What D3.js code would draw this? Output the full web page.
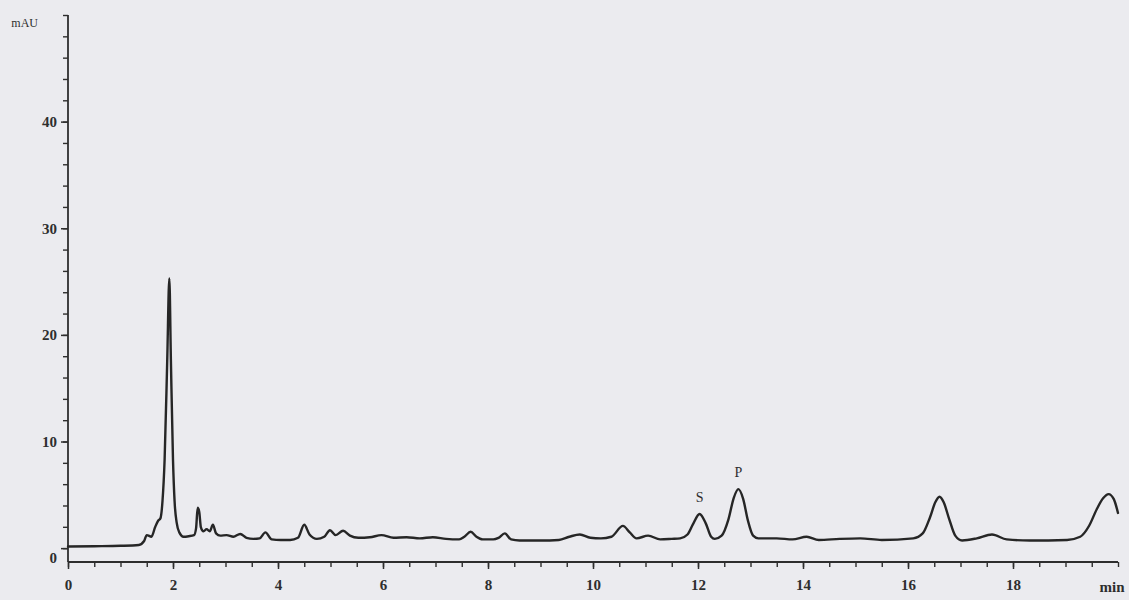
<!DOCTYPE html>
<html>
<head>
<meta charset="utf-8">
<script src="https://cdn.jsdelivr.net/npm/d3@7"></script>
<style>
  html, body { margin: 0; padding: 0; background: #ebebef; }
  svg { display: block; }
  text { font-family: "Liberation Serif", "DejaVu Serif", serif; fill: #2e2e2e; }
</style>
</head>
<body>
<svg id="chart" width="1129" height="600"></svg>
<script>
// retention time (min)
const times = [0, 0.5, 1.0, 1.35, 1.45, 1.5, 1.59, 1.66, 1.72, 1.76, 1.80, 1.84, 1.89, 1.93, 1.96, 2.0, 2.03, 2.07, 2.12, 2.2,
  2.3, 2.4, 2.44, 2.47, 2.50, 2.53, 2.58, 2.64, 2.7, 2.76, 2.82, 2.9, 3.02, 3.15, 3.28, 3.4, 3.53, 3.65, 3.76, 3.88,
  4.05, 4.23, 4.38, 4.5, 4.6, 4.74, 4.88, 4.99, 5.1, 5.24, 5.37, 5.53, 5.75, 5.97, 6.2, 6.45, 6.7, 6.95, 7.2, 7.45,
  7.55, 7.67, 7.78, 7.9, 8.1, 8.2, 8.32, 8.44, 8.6, 9.0, 9.35, 9.55, 9.75, 9.95, 10.15, 10.35, 10.57, 10.7, 10.83, 11.05,
  11.28, 11.5, 11.66, 11.8, 11.9, 12.03, 12.15, 12.25, 12.32, 12.45, 12.58, 12.68, 12.77, 12.86, 12.95, 13.05, 13.15, 13.5, 13.8, 14.07,
  14.3, 14.7, 15.09, 15.5, 16.1, 16.28, 16.42, 16.52, 16.6, 16.68, 16.78, 16.9, 17.03, 17.31, 17.6, 17.88, 18.32, 19.03, 19.28, 19.45,
  19.6, 19.72, 19.82, 19.92, 20];
// absorbance (mAU)
const absorbance = [0.15, 0.18, 0.22, 0.3, 0.67, 1.22, 1.07, 1.98, 2.59, 2.79, 4.42, 8.27, 17.6, 25.3, 17.6, 8.27, 4.42, 2.39, 1.48, 1.07,
  1.12, 1.22, 1.88, 3.8, 3.4, 1.98, 1.58, 1.78, 1.58, 2.19, 1.38, 1.17, 1.22, 1.07, 1.33, 0.97, 0.87, 0.92, 1.48, 0.82,
  0.77, 0.77, 0.97, 2.19, 1.28, 0.87, 1.07, 1.68, 1.22, 1.63, 1.17, 0.97, 1.02, 1.22, 0.97, 1.02, 0.92, 1.02, 0.87, 0.82,
  1.07, 1.53, 1.07, 0.82, 0.82, 0.97, 1.38, 0.82, 0.72, 0.72, 0.77, 1.07, 1.28, 0.97, 0.92, 1.07, 2.09, 1.48, 0.92, 1.17,
  0.82, 0.87, 0.92, 1.28, 2.2, 3.2, 2.3, 1.07, 0.87, 1.17, 2.7, 4.7, 5.53, 4.62, 2.6, 1.17, 0.92, 0.92, 0.82, 1.07,
  0.77, 0.87, 0.92, 0.77, 0.92, 1.38, 2.9, 4.3, 4.82, 4.3, 2.8, 1.17, 0.72, 0.92, 1.28, 0.82, 0.72, 0.77, 1.07, 2.1,
  3.7, 4.7, 5.07, 4.6, 3.3];
// annotated peaks
const peakNames = ["S", "P"];
const peakTimes = [12.03, 12.77];
const peakHeights = [3.2, 5.53];
// axis ticks
const xMajorTicks = [0, 2, 4, 6, 8, 10, 12, 14, 16, 18];
const yMajorTicks = [0, 10, 20, 30, 40];
const yUnit = "mAU";
const xUnit = "min";

const svg = d3.select("#chart");
const ink = "#2e2e2e";

svg.append("rect").attr("width", 1129).attr("height", 600).attr("fill", "#ebebef");

const x = d3.scaleLinear().domain([0, 20]).range([68, 1118]);
const y = d3.scaleLinear().domain([-1.3, 50]).range([562, 15]);

// y axis
const yAxisMinor = d3.axisLeft(y).tickValues(d3.range(0, 51, 2)).tickSize(5).tickFormat("");
const gyMinor = svg.append("g").attr("transform", `translate(${x(0)},0)`).call(yAxisMinor);
gyMinor.select(".domain").remove();
gyMinor.selectAll("line").attr("stroke", ink).attr("stroke-width", 1.4);

const gy = svg.append("g").attr("transform", `translate(${x(0)},0)`)
  .call(d3.axisLeft(y).tickValues(yMajorTicks).tickSize(7).tickPadding(4).tickFormat(d3.format("d")));
gy.select(".domain").remove();
gy.selectAll("line").attr("stroke", ink).attr("stroke-width", 1.5);
gy.selectAll("text").attr("font-size", 15).attr("font-weight", "bold")
  .attr("font-family", "'Liberation Serif', serif").attr("fill", ink)
  .attr("dy", d => d === 0 ? "0.95em" : "0.32em");

svg.append("line").attr("x1", x(0)).attr("x2", x(0)).attr("y1", y(50)).attr("y2", y(-1.3))
  .attr("stroke", ink).attr("stroke-width", 1.8);

svg.append("text").attr("x", 38).attr("y", y(50) + 12).attr("text-anchor", "end")
  .attr("font-size", 12).attr("fill", ink).text(yUnit);

// x axis
const gxMinor = svg.append("g").attr("transform", `translate(0,${y(-1.3)})`)
  .call(d3.axisBottom(x).tickValues(d3.range(0, 20.01, 0.5)).tickSize(5).tickFormat(""));
gxMinor.select(".domain").remove();
gxMinor.selectAll("line").attr("stroke", ink).attr("stroke-width", 1.4);

const gx = svg.append("g").attr("transform", `translate(0,${y(-1.3)})`)
  .call(d3.axisBottom(x).tickValues(xMajorTicks).tickSize(7).tickPadding(10).tickFormat(d3.format("d")));
gx.select(".domain").remove();
gx.selectAll("line").attr("stroke", ink).attr("stroke-width", 1.5);
gx.selectAll("text").attr("font-size", 15).attr("font-weight", "bold")
  .attr("font-family", "'Liberation Serif', serif").attr("fill", ink);

svg.append("line").attr("x1", x(0)).attr("x2", x(20)).attr("y1", y(-1.3)).attr("y2", y(-1.3))
  .attr("stroke", ink).attr("stroke-width", 1.8);

svg.append("text").attr("x", x(20) - 6).attr("y", y(-1.3) + 30).attr("text-anchor", "middle")
  .attr("font-size", 15).attr("font-weight", "bold").attr("fill", ink).text(xUnit);

// trace
const data = times.map((t, i) => [t, absorbance[i]]);
const line = d3.line().x(d => x(d[0])).y(d => y(d[1])).curve(d3.curveMonotoneX);
svg.append("path").datum(data).attr("d", line)
  .attr("fill", "none").attr("stroke", "#262626").attr("stroke-width", 2.4)
  .attr("stroke-linejoin", "round").attr("stroke-linecap", "round");

// peak labels
svg.selectAll("text.peak").data(peakNames).enter().append("text")
  .attr("class", "peak")
  .attr("x", (d, i) => x(peakTimes[i]))
  .attr("y", (d, i) => y(peakHeights[i]) - 12)
  .attr("text-anchor", "middle").attr("font-size", 14).attr("fill", ink)
  .text(d => d);
</script>
</body>
</html>
